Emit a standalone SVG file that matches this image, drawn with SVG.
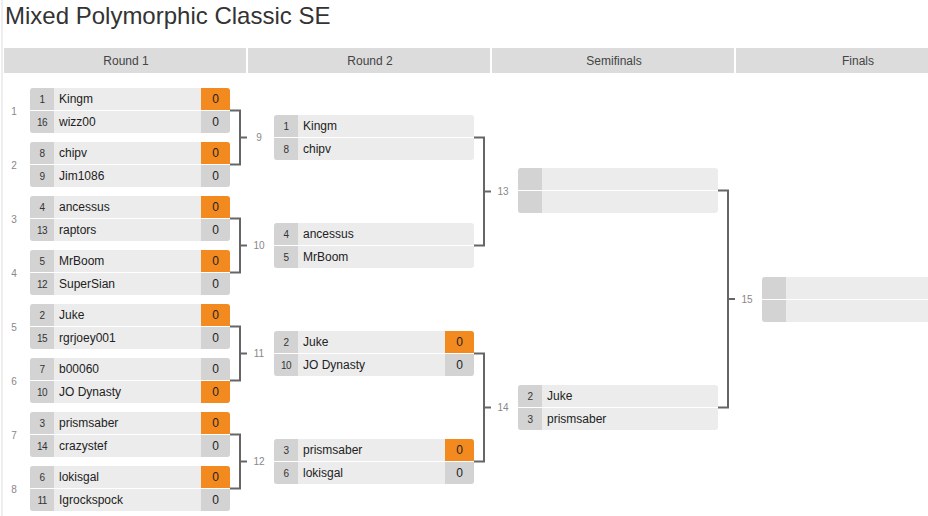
<svg xmlns="http://www.w3.org/2000/svg" xmlns:xlink="http://www.w3.org/1999/xlink" width="928" height="516" viewBox="0 0 928 516">
<style>
text{font-family:"Liberation Sans",Arial,sans-serif}
.title{font-size:24px;fill:#333}
.hdr{font-size:12px;fill:#444;text-anchor:middle}
.bg{fill:#ececec}
.sd{fill:#d3d3d3}
.sc{fill:#d3d3d3}
.win{fill:#f38a1f}
.sep{stroke:#fff;stroke-width:1}
.seed{font-size:10px;fill:#333;text-anchor:middle;letter-spacing:-0.6px}
.name{font-size:12px;fill:#222}
.score{font-size:12px;fill:#222;text-anchor:middle}
.lbl{font-size:10px;fill:#888;text-anchor:middle}
.conn path{fill:none;stroke:#666;stroke-width:2}
</style>
<defs>
<rect id="bg" width="200" height="45" rx="3" ry="3"/>
<path id="seedcol" d="M3,0 H24 V45 H3 A3,3 0 0 1 0,42 V3 A3,3 0 0 1 3,0 Z"/>
<path id="sTop" d="M171,0 H197 A3,3 0 0 1 200,3 V22.5 H171 Z"/>
<path id="sBot" d="M171,22.5 H200 V42 A3,3 0 0 1 197,45 H171 Z"/>
</defs>
<rect x="0" y="0" width="928" height="516" fill="#fff"/>
<rect x="1" y="0" width="2" height="516" fill="#eeeeee"/>
<text class="title" x="5" y="24">Mixed Polymorphic Classic SE</text>
<g id="header">
<rect x="4" y="48" width="242" height="25" fill="#dcdcdc"/>
<rect x="248" y="48" width="242" height="25" fill="#dcdcdc"/>
<rect x="492" y="48" width="242" height="25" fill="#dcdcdc"/>
<rect x="736" y="48" width="192" height="25" fill="#dcdcdc"/>
<text class="hdr" x="126" y="65">Round 1</text>
<text class="hdr" x="370" y="65">Round 2</text>
<text class="hdr" x="614" y="65">Semifinals</text>
<text class="hdr" x="858" y="65">Finals</text>
</g>
<g id="connectors" class="conn">
<path d="M230,110.5 H240 V164.5 H230 M240,137.5 H247"/>
<path d="M230,218.5 H240 V272.5 H230 M240,245.5 H247"/>
<path d="M230,326.5 H240 V380.5 H230 M240,353.5 H247"/>
<path d="M230,434.5 H240 V488.5 H230 M240,461.5 H247"/>
<path d="M474,137.5 H484 V245.5 H474 M484,191.5 H491"/>
<path d="M474,353.5 H484 V461.5 H474 M484,407.5 H491"/>
<path d="M718,190.5 H728 V407.5 H718 M728,299 H735"/>
<text class="lbl" x="259" y="141">9</text>
<text class="lbl" x="259" y="249">10</text>
<text class="lbl" x="259" y="357">11</text>
<text class="lbl" x="259" y="465">12</text>
<text class="lbl" x="503" y="195">13</text>
<text class="lbl" x="503" y="411">14</text>
<text class="lbl" x="747" y="303">15</text>
</g>
<g id="m1" transform="translate(30,88)">
<use href="#bg" class="bg"/><use href="#seedcol" class="sd"/><use href="#sTop" class="win"/><use href="#sBot" class="sc"/><line class="sep" x1="0" y1="22.5" x2="200" y2="22.5"/>
<text class="seed" x="12" y="15">1</text><text class="name" x="29" y="15">Kingm</text><text class="score" x="185.5" y="15">0</text>
<text class="seed" x="12" y="38">16</text><text class="name" x="29" y="38">wizz00</text><text class="score" x="185.5" y="38">0</text>
<text class="lbl" x="-16" y="26.5">1</text>
</g>
<g id="m2" transform="translate(30,142)">
<use href="#bg" class="bg"/><use href="#seedcol" class="sd"/><use href="#sTop" class="win"/><use href="#sBot" class="sc"/><line class="sep" x1="0" y1="22.5" x2="200" y2="22.5"/>
<text class="seed" x="12" y="15">8</text><text class="name" x="29" y="15">chipv</text><text class="score" x="185.5" y="15">0</text>
<text class="seed" x="12" y="38">9</text><text class="name" x="29" y="38">Jim1086</text><text class="score" x="185.5" y="38">0</text>
<text class="lbl" x="-16" y="26.5">2</text>
</g>
<g id="m3" transform="translate(30,196)">
<use href="#bg" class="bg"/><use href="#seedcol" class="sd"/><use href="#sTop" class="win"/><use href="#sBot" class="sc"/><line class="sep" x1="0" y1="22.5" x2="200" y2="22.5"/>
<text class="seed" x="12" y="15">4</text><text class="name" x="29" y="15">ancessus</text><text class="score" x="185.5" y="15">0</text>
<text class="seed" x="12" y="38">13</text><text class="name" x="29" y="38">raptors</text><text class="score" x="185.5" y="38">0</text>
<text class="lbl" x="-16" y="26.5">3</text>
</g>
<g id="m4" transform="translate(30,250)">
<use href="#bg" class="bg"/><use href="#seedcol" class="sd"/><use href="#sTop" class="win"/><use href="#sBot" class="sc"/><line class="sep" x1="0" y1="22.5" x2="200" y2="22.5"/>
<text class="seed" x="12" y="15">5</text><text class="name" x="29" y="15">MrBoom</text><text class="score" x="185.5" y="15">0</text>
<text class="seed" x="12" y="38">12</text><text class="name" x="29" y="38">SuperSian</text><text class="score" x="185.5" y="38">0</text>
<text class="lbl" x="-16" y="26.5">4</text>
</g>
<g id="m5" transform="translate(30,304)">
<use href="#bg" class="bg"/><use href="#seedcol" class="sd"/><use href="#sTop" class="win"/><use href="#sBot" class="sc"/><line class="sep" x1="0" y1="22.5" x2="200" y2="22.5"/>
<text class="seed" x="12" y="15">2</text><text class="name" x="29" y="15">Juke</text><text class="score" x="185.5" y="15">0</text>
<text class="seed" x="12" y="38">15</text><text class="name" x="29" y="38">rgrjoey001</text><text class="score" x="185.5" y="38">0</text>
<text class="lbl" x="-16" y="26.5">5</text>
</g>
<g id="m6" transform="translate(30,358)">
<use href="#bg" class="bg"/><use href="#seedcol" class="sd"/><use href="#sTop" class="sc"/><use href="#sBot" class="win"/><line class="sep" x1="0" y1="22.5" x2="200" y2="22.5"/>
<text class="seed" x="12" y="15">7</text><text class="name" x="29" y="15">b00060</text><text class="score" x="185.5" y="15">0</text>
<text class="seed" x="12" y="38">10</text><text class="name" x="29" y="38">JO Dynasty</text><text class="score" x="185.5" y="38">0</text>
<text class="lbl" x="-16" y="26.5">6</text>
</g>
<g id="m7" transform="translate(30,412)">
<use href="#bg" class="bg"/><use href="#seedcol" class="sd"/><use href="#sTop" class="win"/><use href="#sBot" class="sc"/><line class="sep" x1="0" y1="22.5" x2="200" y2="22.5"/>
<text class="seed" x="12" y="15">3</text><text class="name" x="29" y="15">prismsaber</text><text class="score" x="185.5" y="15">0</text>
<text class="seed" x="12" y="38">14</text><text class="name" x="29" y="38">crazystef</text><text class="score" x="185.5" y="38">0</text>
<text class="lbl" x="-16" y="26.5">7</text>
</g>
<g id="m8" transform="translate(30,466)">
<use href="#bg" class="bg"/><use href="#seedcol" class="sd"/><use href="#sTop" class="win"/><use href="#sBot" class="sc"/><line class="sep" x1="0" y1="22.5" x2="200" y2="22.5"/>
<text class="seed" x="12" y="15">6</text><text class="name" x="29" y="15">lokisgal</text><text class="score" x="185.5" y="15">0</text>
<text class="seed" x="12" y="38">11</text><text class="name" x="29" y="38">Igrockspock</text><text class="score" x="185.5" y="38">0</text>
<text class="lbl" x="-16" y="26.5">8</text>
</g>
<g id="m9" transform="translate(274,115)">
<use href="#bg" class="bg"/><use href="#seedcol" class="sd"/><line class="sep" x1="0" y1="22.5" x2="200" y2="22.5"/>
<text class="seed" x="12" y="15">1</text><text class="name" x="29" y="15">Kingm</text>
<text class="seed" x="12" y="38">8</text><text class="name" x="29" y="38">chipv</text>
</g>
<g id="m10" transform="translate(274,223)">
<use href="#bg" class="bg"/><use href="#seedcol" class="sd"/><line class="sep" x1="0" y1="22.5" x2="200" y2="22.5"/>
<text class="seed" x="12" y="15">4</text><text class="name" x="29" y="15">ancessus</text>
<text class="seed" x="12" y="38">5</text><text class="name" x="29" y="38">MrBoom</text>
</g>
<g id="m11" transform="translate(274,331)">
<use href="#bg" class="bg"/><use href="#seedcol" class="sd"/><use href="#sTop" class="win"/><use href="#sBot" class="sc"/><line class="sep" x1="0" y1="22.5" x2="200" y2="22.5"/>
<text class="seed" x="12" y="15">2</text><text class="name" x="29" y="15">Juke</text><text class="score" x="185.5" y="15">0</text>
<text class="seed" x="12" y="38">10</text><text class="name" x="29" y="38">JO Dynasty</text><text class="score" x="185.5" y="38">0</text>
</g>
<g id="m12" transform="translate(274,439)">
<use href="#bg" class="bg"/><use href="#seedcol" class="sd"/><use href="#sTop" class="win"/><use href="#sBot" class="sc"/><line class="sep" x1="0" y1="22.5" x2="200" y2="22.5"/>
<text class="seed" x="12" y="15">3</text><text class="name" x="29" y="15">prismsaber</text><text class="score" x="185.5" y="15">0</text>
<text class="seed" x="12" y="38">6</text><text class="name" x="29" y="38">lokisgal</text><text class="score" x="185.5" y="38">0</text>
</g>
<g id="m13" transform="translate(518,168)">
<use href="#bg" class="bg"/><use href="#seedcol" class="sd"/><line class="sep" x1="0" y1="22.5" x2="200" y2="22.5"/>
</g>
<g id="m14" transform="translate(518,385)">
<use href="#bg" class="bg"/><use href="#seedcol" class="sd"/><line class="sep" x1="0" y1="22.5" x2="200" y2="22.5"/>
<text class="seed" x="12" y="15">2</text><text class="name" x="29" y="15">Juke</text>
<text class="seed" x="12" y="38">3</text><text class="name" x="29" y="38">prismsaber</text>
</g>
<g id="m15" transform="translate(762,277)">
<use href="#bg" class="bg"/><use href="#seedcol" class="sd"/><line class="sep" x1="0" y1="22.5" x2="200" y2="22.5"/>
</g>
</svg>
